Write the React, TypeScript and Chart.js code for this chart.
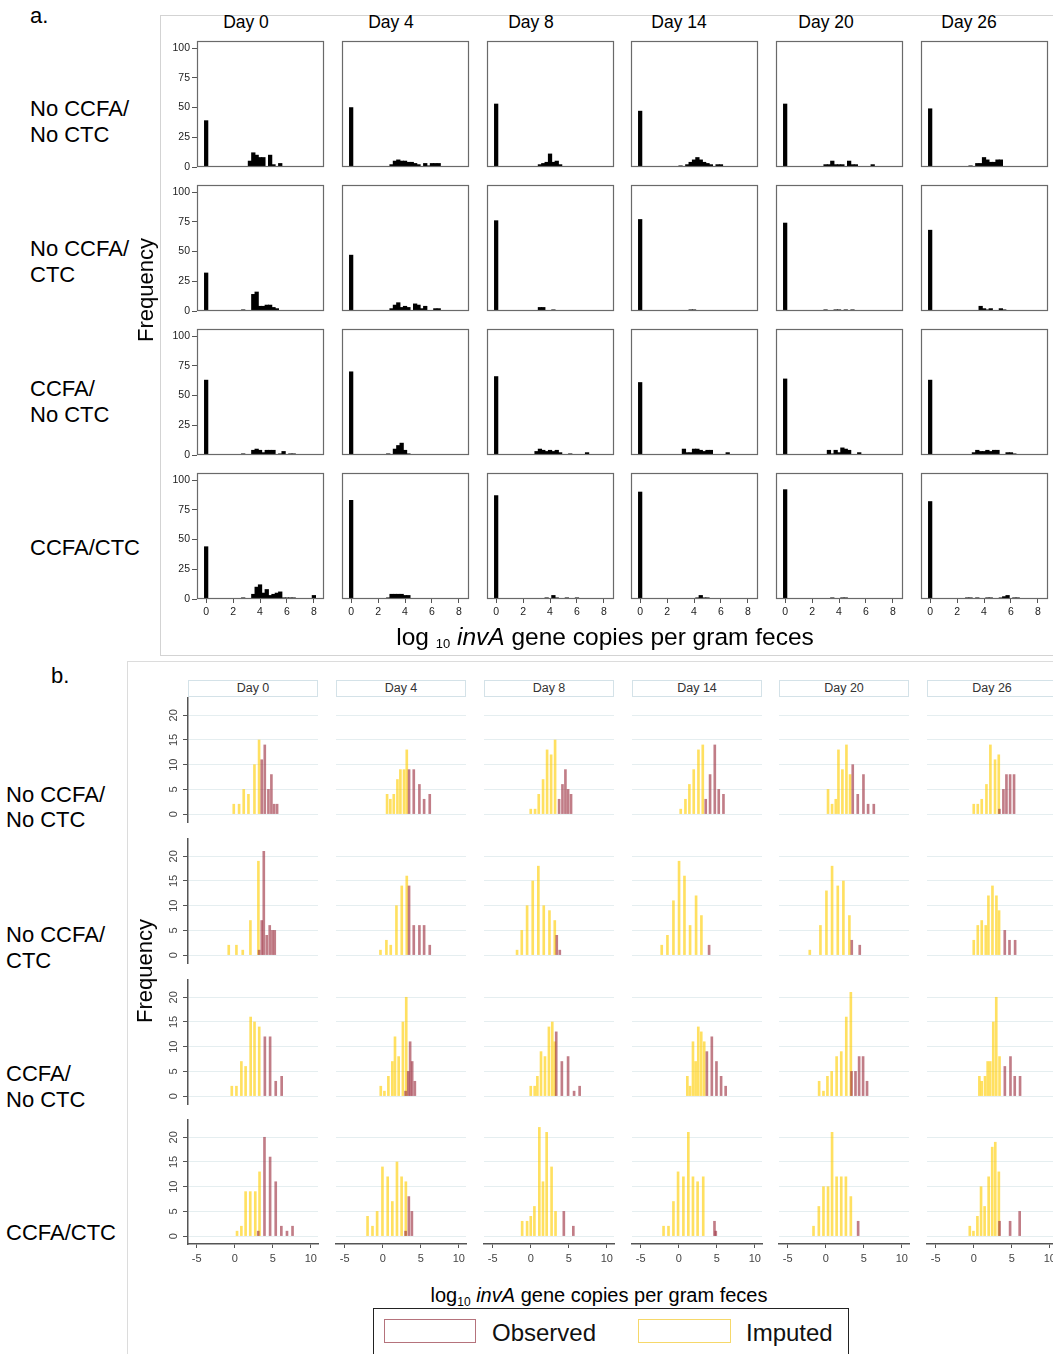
import React, { useEffect, useRef } from "react";
import { Chart, registerables } from "chart.js";

Chart.register(...registerables);

const FONT = "'Liberation Sans', Arial, Helvetica, sans-serif";
Chart.defaults.font.family = FONT;

type Pt = [number, number];

// ---------------- labels / ticks ----------------
const days = ["Day 0", "Day 4", "Day 8", "Day 14", "Day 20", "Day 26"];
const groupLines = [["No CCFA/", "No CTC"], ["No CCFA/", "CTC"], ["CCFA/", "No CTC"], ["CCFA/CTC"]];
const aTicksX = [0, 2, 4, 6, 8];
const aTicksY = [0, 25, 50, 75, 100];
const bTicksX = [-5, 0, 5, 10];
const bTicksY = [0, 5, 10, 15, 20];

// ---------------- panel a: frequency per bin [log10 copies, frequency], one list per day ----------------
const freqNoCcfaNoCtc: Pt[][] = [
  [[0, 39], [3.25, 5], [3.5, 12], [3.75, 10], [4, 8], [4.25, 8], [4.75, 10], [5, 2], [5.5, 3]],
  [[0, 50], [3, 2], [3.25, 5], [3.5, 6], [3.75, 5], [4, 5], [4.25, 4], [4.5, 4], [4.75, 3], [5, 2], [5.5, 3], [5.75, 1], [6, 3], [6.25, 3], [6.5, 3]],
  [[0, 53], [3.25, 2], [3.5, 3], [3.75, 4], [4, 11], [4.25, 4], [4.5, 5], [4.75, 2]],
  [[0, 47], [3, 1], [3.5, 2], [3.75, 4], [4, 6], [4.25, 8], [4.5, 6], [4.75, 4], [5, 3], [5.25, 2], [5.75, 2], [6, 2]],
  [[0, 53], [3, 2], [3.25, 2], [3.5, 5], [3.75, 2], [4, 2], [4.25, 2], [4.75, 5], [5, 2], [5.25, 2], [6.5, 2]],
  [[0, 49], [3, 1], [3.5, 3], [3.75, 3], [4, 8], [4.25, 6], [4.5, 4], [4.75, 4], [5, 6], [5.25, 6]],
];
const freqNoCcfaCtc: Pt[][] = [
  [[0, 32], [2.75, 1], [3.5, 14], [3.75, 16], [4, 4], [4.25, 4], [4.5, 5], [4.75, 5], [5, 3], [5.25, 2]],
  [[0, 47], [3, 2], [3.25, 5], [3.5, 7], [3.75, 3], [4, 4], [4.25, 3], [4.75, 6], [5, 5], [5.25, 2], [5.5, 4], [6.25, 2], [6.5, 2]],
  [[0, 76], [3.25, 3], [3.5, 3], [4.25, 1]],
  [[0, 77], [3.75, 1], [4, 1]],
  [[0, 74], [3, 1], [3.75, 1], [4, 1], [4.5, 1], [5, 1]],
  [[0, 68], [3.75, 4], [4, 2], [4.25, 1], [4.5, 2], [5.25, 2], [5.5, 1]],
];
const freqCcfaNoCtc: Pt[][] = [
  [[0, 63], [2.75, 1], [3.5, 4], [3.75, 5], [4, 4], [4.25, 2], [4.5, 4], [4.75, 4], [5, 4], [5.5, 1], [5.75, 3], [6.25, 1], [6.5, 1]],
  [[0, 70], [2.75, 1], [3.25, 5], [3.5, 8], [3.75, 10], [4, 4], [4.25, 1]],
  [[0, 66], [3, 3], [3.25, 5], [3.5, 4], [3.75, 3], [4, 4], [4.25, 3], [4.5, 4], [4.75, 2], [5.5, 1], [6.75, 2]],
  [[0, 61], [3.25, 5], [3.5, 2], [3.75, 2], [4, 5], [4.25, 5], [4.5, 4], [4.75, 3], [5, 4], [5.25, 4], [6.5, 2]],
  [[0, 64], [3.25, 4], [3.5, 1], [3.75, 4], [4, 2], [4.25, 6], [4.5, 5], [4.75, 4], [5.5, 2]],
  [[0, 63], [3.25, 2], [3.5, 4], [3.75, 3], [4, 3], [4.25, 4], [4.5, 3], [4.75, 4], [5, 4], [5.75, 2], [6, 2], [6.25, 1]],
];
const freqCcfaCtc: Pt[][] = [
  [[0, 44], [2.75, 1], [3.5, 4], [3.75, 10], [4, 12], [4.25, 5], [4.5, 8], [4.75, 3], [5, 4], [5.25, 5], [5.5, 6], [5.75, 1], [6, 1], [6.25, 1], [6.5, 1], [8, 3]],
  [[0, 83], [2.75, 1], [3, 4], [3.25, 4], [3.5, 4], [3.75, 4], [4, 3], [4.25, 3]],
  [[0, 87], [3.75, 1], [4.25, 3], [4.5, 1], [5.25, 1], [6, 1]],
  [[0, 90], [4.25, 1], [4.5, 3], [4.75, 1], [5, 1]],
  [[0, 92], [3.5, 1], [4.25, 1], [4.5, 1]],
  [[0, 82], [2.75, 1], [3, 1], [3.5, 1], [4.25, 1], [4.5, 1], [5.25, 1], [5.5, 2], [5.75, 3], [6.25, 1], [6.5, 1]],
];

// ---------------- panel b: imputed / observed [log10 copies, frequency], one list per day ----------------
const impNoCcfaNoCtc: Pt[][] = [
  [[-0.13, 2], [0.57, 2], [1.18, 5], [1.8, 4], [2.59, 10], [3.2, 15]],
  [[0.57, 4], [1.0, 3], [1.45, 4], [1.93, 7], [2.32, 9], [2.8, 9], [3.16, 13]],
  [[0, 1], [0.57, 1], [1.05, 4], [1.62, 7], [2.15, 13], [2.68, 12], [3.2, 15]],
  [[0.26, 1], [0.88, 3], [1.4, 6], [1.97, 9], [2.59, 13], [3.16, 14]],
  [[0.3, 5], [0.83, 2], [1.32, 3], [1.67, 13], [2.19, 9], [2.72, 14], [3.2, 8]],
  [[0, 2], [0.53, 2], [1.05, 3], [1.67, 6], [2.19, 14], [2.8, 11], [3.29, 12]],
];
const obsNoCcfaNoCtc: Pt[][] = [
  [[3.55, 11], [3.95, 14], [4.43, 5], [4.82, 8], [5.18, 2], [5.57, 2]],
  [[3.46, 9], [4.08, 9], [4.82, 6], [5.44, 3], [6.18, 4]],
  [[3.73, 3], [4.17, 6], [4.56, 9], [4.91, 5], [5.3, 4]],
  [[3.55, 3], [4.12, 8], [4.74, 14], [5.26, 5], [5.88, 4]],
  [[3.55, 10], [4.21, 4], [4.96, 8], [5.57, 2], [6.32, 2]],
  [[3.38, 1], [3.9, 5], [4.3, 8], [4.78, 8], [5.3, 8]],
];
const impNoCcfaCtc: Pt[][] = [
  [[-0.79, 2], [0.22, 2], [1.05, 1], [2.06, 7], [3.11, 19]],
  [[-0.3, 1], [0.48, 3], [1.05, 2], [1.8, 10], [2.5, 14], [3.16, 16]],
  [[-1.8, 1], [-1.18, 5], [-0.48, 10], [0.26, 15], [1.0, 18], [1.71, 10], [2.46, 9], [3.16, 7]],
  [[-2.24, 2], [-1.49, 4], [-0.7, 11], [0.04, 19], [0.75, 16], [1.49, 6], [2.28, 12], [2.98, 8]],
  [[-2.1, 1], [-0.7, 6], [0.09, 13], [0.83, 18], [1.58, 14], [2.32, 15], [3.11, 8]],
  [[0, 3], [0.53, 6], [1.05, 7], [1.58, 6], [1.93, 12], [2.46, 14], [2.98, 12], [3.33, 9]],
];
const obsNoCcfaCtc: Pt[][] = [
  [[3.2, 1], [3.55, 7], [3.82, 21], [4.21, 4], [4.6, 6], [4.96, 5], [5.26, 5]],
  [[3.46, 14], [4.08, 6], [4.82, 6], [5.44, 6], [6.18, 2]],
  [[3.42, 4], [3.82, 1]],
  [[3.99, 2]],
  [[3.42, 3], [4.47, 2]],
  [[4.08, 5], [4.7, 3], [5.44, 3]],
];
const impCcfaNoCtc: Pt[][] = [
  [[-0.39, 2], [0.22, 2], [0.87, 7], [1.43, 6], [2.09, 16], [2.6, 15], [3.22, 14]],
  [[-0.26, 2], [0.22, 1], [0.74, 4], [1.26, 7], [1.61, 12], [2.09, 8], [2.65, 15], [3.09, 20]],
  [[0, 2], [0.52, 2], [0.87, 4], [1.35, 9], [1.87, 8], [2.39, 14], [2.83, 15], [3.17, 11]],
  [[1.13, 4], [1.48, 2], [1.87, 11], [2.22, 7], [2.57, 14], [2.96, 13], [3.35, 11]],
  [[-0.87, 3], [-0.3, 1], [0.22, 4], [0.78, 5], [1.43, 8], [2.04, 9], [2.7, 16], [3.3, 21]],
  [[0.74, 4], [1.04, 3], [1.48, 4], [1.83, 7], [2.17, 7], [2.57, 15], [2.96, 20], [3.39, 8]],
];
const obsCcfaNoCtc: Pt[][] = [
  [[3.96, 12], [4.65, 12], [5.39, 3], [6.17, 4]],
  [[3.0, 1], [3.35, 5], [3.6, 11], [3.87, 7], [4.22, 3]],
  [[3.35, 13], [4.09, 7], [4.91, 8], [5.7, 1], [6.43, 2]],
  [[3.7, 9], [4.35, 12], [4.96, 7], [5.57, 4], [6.17, 2]],
  [[3.39, 5], [3.91, 5], [4.39, 8], [4.91, 8], [5.43, 3]],
  [[4.09, 6], [4.83, 8], [5.39, 4], [6.09, 4]],
];
const impCcfaCtc: Pt[][] = [
  [[0.3, 1], [0.87, 2], [1.43, 9], [2.04, 9], [2.7, 9], [3.26, 13]],
  [[-2.0, 4], [-1.35, 2], [-0.74, 5], [-0.04, 14], [0.65, 12], [1.26, 7], [1.87, 15], [2.48, 12], [3.04, 11]],
  [[-1.13, 3], [-0.48, 3], [0, 4], [0.48, 6], [1.13, 22], [1.61, 11], [2.09, 21], [2.74, 14], [3.26, 5]],
  [[-2.0, 2], [-1.35, 2], [-0.7, 7], [-0.09, 13], [0.61, 12], [1.26, 21], [1.87, 12], [2.48, 11], [3.22, 12]],
  [[-1.61, 2], [-0.91, 6], [-0.3, 10], [0.3, 10], [0.83, 21], [1.43, 12], [2.04, 12], [2.65, 12], [3.3, 8]],
  [[-0.52, 2], [-0.04, 1], [0.48, 4], [0.96, 10], [1.43, 6], [1.96, 12], [2.43, 18], [2.83, 19], [3.3, 13]],
];
const obsCcfaCtc: Pt[][] = [
  [[3.09, 1], [3.91, 20], [4.65, 16], [5.39, 11], [6.13, 2], [6.87, 1], [7.6, 2]],
  [[3.0, 1], [3.43, 8], [3.83, 5]],
  [[4.35, 5], [5.6, 2]],
  [[4.7, 3], [4.87, 1]],
  [[4.26, 3]],
  [[3.39, 3], [4.78, 3], [6.04, 5]],
];

const panelARows = [freqNoCcfaNoCtc, freqNoCcfaCtc, freqCcfaNoCtc, freqCcfaCtc];
const panelBImp = [impNoCcfaNoCtc, impNoCcfaCtc, impCcfaNoCtc, impCcfaCtc];
const panelBObs = [obsNoCcfaNoCtc, obsNoCcfaCtc, obsCcfaNoCtc, obsCcfaCtc];

// ---------------- layout ----------------
const PAD = 8;
const A_COLS = [197, 342, 487, 631, 776, 921];
const A_ROWS = [41, 185, 329, 473];
const A_W = 127;
const A_H = 126;
const A_YW = 36;
const A_XH = 22;
const A_HEAD_X = [246, 391, 531, 679, 826, 969];

const B_COLS = [188, 336, 484, 632, 779, 927];
const B_ROWS = [698, 839, 980, 1120];
const B_W = 130;
const B_H = 124;
const B_YW = 26;
const B_XH = 24;

const OBS_COLOR = "rgba(155, 45, 62, 0.62)";
const IMP_COLOR = "rgba(255, 205, 0, 0.62)";

const boxPlugin = {
  id: "boxFrame",
  afterDatasetsDraw(chart: any) {
    const { ctx, chartArea: a } = chart;
    ctx.save();
    ctx.strokeStyle = "#6a6a6a";
    ctx.lineWidth = 1.2;
    ctx.strokeRect(Math.round(a.left) + 0.5, Math.round(a.top) + 0.5, Math.round(a.right - a.left) - 1, Math.round(a.bottom - a.top) - 1);
    ctx.restore();
  },
};

const toXY = (pts: Pt[]) => pts.map(([x, y]) => ({ x, y }));

function histConfig(pts: Pt[], showY: boolean, showX: boolean): any {
  return {
    type: "bar",
    data: {
      datasets: [
        { data: toXY(pts), backgroundColor: "#000", borderWidth: 0, barThickness: 3.6, grouped: false },
      ],
    },
    options: {
      responsive: false,
      animation: false,
      events: [],
      layout: { padding: PAD },
      plugins: { legend: { display: false }, tooltip: { enabled: false } },
      scales: {
        x: {
          type: "linear",
          min: -0.68,
          max: 8.75,
          offset: false,
          afterBuildTicks: (s: any) => { s.ticks = aTicksX.map((v) => ({ value: v })); },
          afterFit: (s: any) => { s.height = showX ? A_XH : 0; s.paddingLeft = 0; s.paddingRight = 0; },
          ticks: { display: showX, color: "#222", font: { size: 10.5, family: FONT }, padding: 3, minRotation: 0, maxRotation: 0, autoSkip: false },
          grid: { display: showX, drawOnChartArea: false, drawTicks: true, tickLength: 4, tickColor: "#555", offset: false },
          border: { display: false },
        },
        y: {
          type: "linear",
          min: 0,
          max: 106,
          afterBuildTicks: (s: any) => { s.ticks = aTicksY.map((v) => ({ value: v })); },
          afterFit: (s: any) => { s.width = showY ? A_YW : 0; s.paddingTop = 0; s.paddingBottom = 0; },
          ticks: { display: showY, color: "#222", font: { size: 10.5, family: FONT }, padding: 2 },
          grid: { display: showY, drawOnChartArea: false, drawTicks: true, tickLength: 5, tickColor: "#555" },
          border: { display: false },
        },
      },
    },
    plugins: [boxPlugin],
  };
}

function distConfig(imp: Pt[], obs: Pt[], showY: boolean, showX: boolean): any {
  return {
    type: "bar",
    data: {
      datasets: [
        { label: "Observed", data: toXY(obs), backgroundColor: OBS_COLOR, borderWidth: 0, barThickness: 2, grouped: false },
        { label: "Imputed", data: toXY(imp), backgroundColor: IMP_COLOR, borderWidth: 0, barThickness: 2, grouped: false },
      ],
    },
    options: {
      responsive: false,
      animation: false,
      events: [],
      layout: { padding: PAD },
      plugins: { legend: { display: false }, tooltip: { enabled: false } },
      scales: {
        x: {
          type: "linear",
          min: -6.15,
          max: 10.95,
          offset: false,
          afterBuildTicks: (s: any) => { s.ticks = bTicksX.map((v) => ({ value: v })); },
          afterFit: (s: any) => { s.height = showX ? B_XH : 0; s.paddingLeft = 0; s.paddingRight = 0; },
          ticks: { display: showX, color: "#444", font: { size: 11, family: FONT }, padding: 4, minRotation: 0, maxRotation: 0, autoSkip: false },
          grid: { display: showX, drawOnChartArea: false, drawTicks: true, tickLength: 4, tickColor: "#555", offset: false },
          border: { display: showX, color: "#555", width: 1.5 },
        },
        y: {
          type: "linear",
          min: -1.6,
          max: 23.5,
          afterBuildTicks: (s: any) => { s.ticks = bTicksY.map((v) => ({ value: v })); },
          afterFit: (s: any) => { s.width = showY ? B_YW : 0; s.paddingTop = 0; s.paddingBottom = 0; },
          ticks: { display: showY, color: "#444", font: { size: 11, family: FONT }, padding: 3, minRotation: 90, maxRotation: 90, crossAlign: "center" },
          grid: { display: true, drawOnChartArea: true, drawTicks: showY, tickLength: 5, color: "#e5eef0", tickColor: "#555", lineWidth: 1 },
          border: { display: showY, color: "#555", width: 1.5 },
        },
      },
    },
  };
}

function ChartCanvas({ left, top, width, height, make }: { left: number; top: number; width: number; height: number; make: () => any }) {
  const ref = useRef<HTMLCanvasElement | null>(null);
  useEffect(() => {
    const c = ref.current;
    if (!c) return;
    const chart = new Chart(c, make());
    return () => chart.destroy();
  }, []);
  return <canvas ref={ref} width={width} height={height} style={{ position: "absolute", left, top, width, height }} />;
}

const txt = (fs: number): React.CSSProperties => ({
  position: "absolute",
  fontFamily: FONT,
  fontSize: fs,
  lineHeight: `${fs}px`,
  whiteSpace: "nowrap",
  color: "#000",
});

function RotLabel({ cx, cy, text, fs }: { cx: number; cy: number; text: string; fs: number }) {
  return (
    <div style={{ ...txt(fs), left: cx, top: cy, transform: "translate(-50%, -50%) rotate(-90deg)" }}>{text}</div>
  );
}

export default function App() {
  const aBase = [[117, 143], [257, 283], [397, 423], [556]];
  const bBase = [[803, 828], [943, 969], [1082, 1108], [1241]];
  return (
    <div style={{ position: "absolute", left: 0, top: 0, width: 1053, height: 1354, overflow: "hidden", background: "#fff" }}>
      {/* frames */}
      <div style={{ position: "absolute", left: 160, top: 15, width: 960, height: 641, border: "1px solid #d3d3d3", boxSizing: "border-box" }} />
      <div style={{ position: "absolute", left: 127, top: 661, width: 1000, height: 760, border: "1px solid #dcdcdc", boxSizing: "border-box" }} />

      <div style={{ ...txt(22), left: 30, top: 23.3 - 0.8465 * 22 }}>a.</div>
      <div style={{ ...txt(22), left: 51, top: 683.3 - 0.8465 * 22 }}>b.</div>

      {/* panel a headers */}
      {days.map((d, c) => (
        <div key={"ah" + c} style={{ ...txt(17.5), left: A_HEAD_X[c], top: 29 - 0.8465 * 17.5, transform: "translateX(-50%)" }}>{d}</div>
      ))}

      {/* panel a row labels */}
      {groupLines.map((lines, r) =>
        lines.map((l, i) => (
          <div key={`al${r}${i}`} style={{ ...txt(22), left: 30, top: aBase[r][i] - 0.8465 * 22 }}>{l}</div>
        ))
      )}

      {/* panel a charts */}
      {panelARows.map((row, r) =>
        row.map((pts, c) => {
          const showY = c === 0;
          const showX = r === 3;
          const yw = showY ? A_YW : 0;
          const xh = showX ? A_XH : 0;
          return (
            <ChartCanvas
              key={`a${r}${c}`}
              left={A_COLS[c] - PAD - yw}
              top={A_ROWS[r] - PAD}
              width={PAD * 2 + yw + A_W}
              height={PAD * 2 + A_H + xh}
              make={() => histConfig(pts, showY, showX)}
            />
          );
        })
      )}

      <RotLabel cx={146} cy={290} text="Frequency" fs={22} />
      <div style={{ ...txt(24.5), left: 605, top: 646 - 0.8465 * 24.5, transform: "translateX(-50%)" }}>
        log <span style={{ fontSize: 13, verticalAlign: "-3px" }}>10</span> <i>invA</i> gene copies per gram feces
      </div>

      {/* panel b strips */}
      {days.map((d, c) => (
        <div
          key={"bs" + c}
          style={{
            position: "absolute",
            left: B_COLS[c],
            top: 680,
            width: B_W,
            height: 17,
            border: "1px solid #d4e2e8",
            boxSizing: "border-box",
            fontFamily: FONT,
            fontSize: 12.5,
            lineHeight: "15px",
            textAlign: "center",
            color: "#333",
          }}
        >
          {d}
        </div>
      ))}

      {/* panel b row labels */}
      {groupLines.map((lines, r) =>
        lines.map((l, i) => (
          <div key={`bl${r}${i}`} style={{ ...txt(22), left: 6, top: bBase[r][i] - 0.8465 * 22 }}>{l}</div>
        ))
      )}

      {/* panel b charts */}
      {panelBImp.map((row, r) =>
        row.map((imp, c) => {
          const showY = c === 0;
          const showX = r === 3;
          const yw = showY ? B_YW : 0;
          const xh = showX ? B_XH : 0;
          return (
            <ChartCanvas
              key={`b${r}${c}`}
              left={B_COLS[c] - PAD - yw}
              top={B_ROWS[r] - PAD}
              width={PAD * 2 + yw + B_W}
              height={PAD * 2 + B_H + xh}
              make={() => distConfig(imp, panelBObs[r][c], showY, showX)}
            />
          );
        })
      )}

      <RotLabel cx={145} cy={971} text="Frequency" fs={22} />
      <div style={{ ...txt(20), left: 599, top: 1302 - 0.8465 * 20, transform: "translateX(-50%)" }}>
        log<span style={{ fontSize: 12, verticalAlign: "-4px" }}>10</span> <i>invA</i> gene copies per gram feces
      </div>

      {/* legend */}
      <div style={{ position: "absolute", left: 373, top: 1308, width: 476, height: 70, border: "1.5px solid #222", boxSizing: "border-box" }} />
      <div style={{ position: "absolute", left: 384, top: 1319, width: 92, height: 24, border: "1.5px solid #b5737c", boxSizing: "border-box" }} />
      <div style={{ ...txt(24), left: 492, top: 1341 - 0.8465 * 24, color: "#111" }}>Observed</div>
      <div style={{ position: "absolute", left: 638, top: 1319, width: 93, height: 24, border: "1.5px solid #f6d86a", boxSizing: "border-box" }} />
      <div style={{ ...txt(24), left: 746, top: 1341 - 0.8465 * 24, color: "#111" }}>Imputed</div>
    </div>
  );
}
